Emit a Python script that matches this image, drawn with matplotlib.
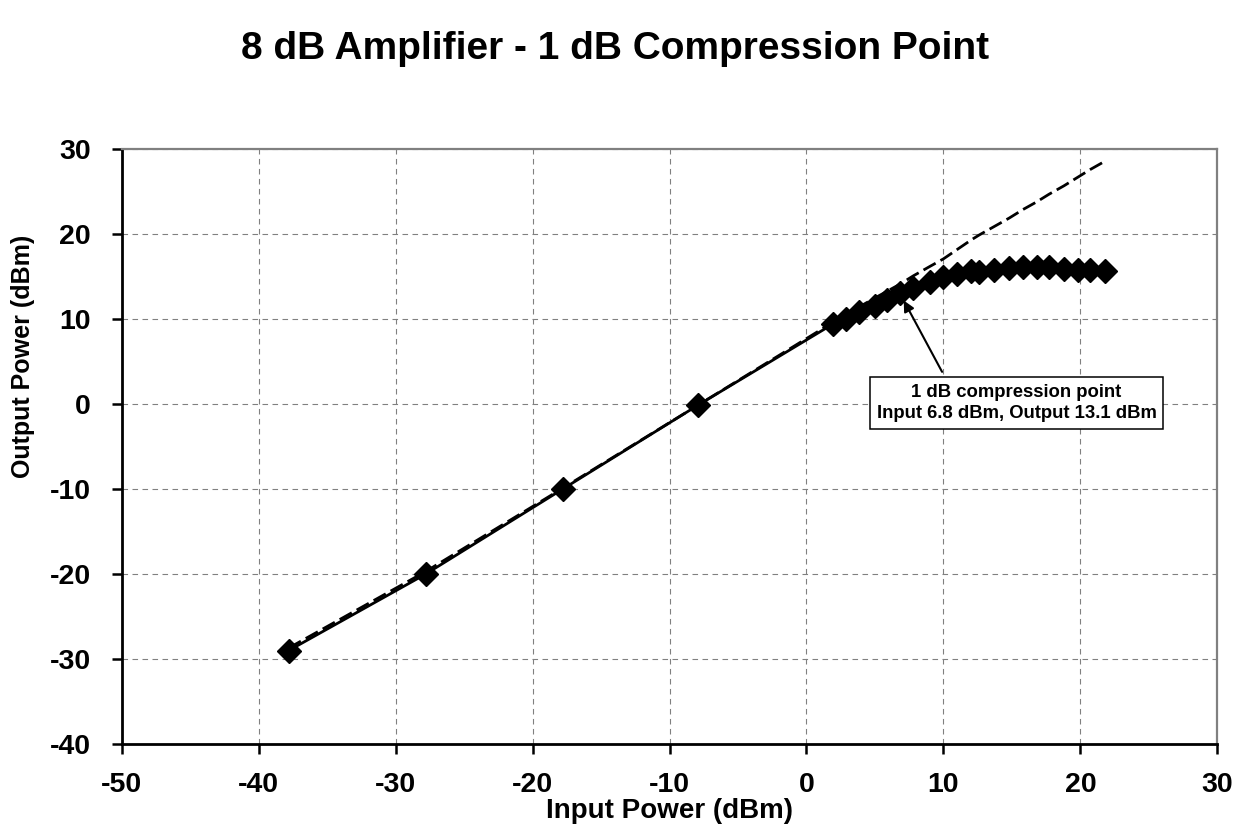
import matplotlib.pyplot as plt

plt.rcParams['font.family'] = ['Liberation Sans', 'DejaVu Sans']
plt.rcParams['font.weight'] = 'bold'
plt.rcParams['axes.unicode_minus'] = False

# Measured amplifier data (input vs output, dBm)
input_dbm = [-37.8, -27.8, -17.8, -7.9, 1.9, 2.9, 3.8, 5.0, 5.9, 6.8, 7.8, 9.0, 10.0,
             11.0, 12.0, 12.6, 13.7, 14.8, 15.8, 16.8, 17.7, 18.8, 19.8, 20.7, 21.8]
output_dbm = [-29.0, -20.0, -10.0, -0.1, 9.4, 10.0, 10.8, 11.6, 12.3, 13.1, 13.7, 14.4, 15.0,
              15.3, 15.7, 15.6, 15.8, 16.0, 16.2, 16.2, 16.1, 15.9, 15.8, 15.8, 15.7]
# Ideal linear response (dashed)
linear_dbm = [-28.7, -19.7, -9.9, -0.1, 9.6, 10.5, 11.4, 12.5, 13.3, 14.1, 15.1, 16.2, 17.1,
              18.2, 19.3, 19.9, 20.9, 21.9, 22.9, 23.8, 24.7, 25.7, 26.7, 27.6, 28.6]

p1db_in = 6.8
p1db_out = 13.1
x_ticks = [-50, -40, -30, -20, -10, 0, 10, 20, 30]
y_ticks = [-40, -30, -20, -10, 0, 10, 20, 30]

fig = plt.figure(figsize=(12.54, 8.32), dpi=100)
ax = fig.add_axes([0.0970, 0.1058, 0.8738, 0.7148])

ax.plot(input_dbm, linear_dbm, color='black', lw=2, ls=(0, (5, 2)), zorder=3)
ax.plot(input_dbm, output_dbm, color='black', lw=2, marker='D', markersize=12, zorder=4)

ax.set_xlim(-50, 30)
ax.set_ylim(-40, 30)
ax.set_xticks(x_ticks)
ax.set_yticks(y_ticks)
ax.grid(True, color='#808080', lw=0.8, ls=(0, (5, 4)))
ax.set_axisbelow(True)

for s in ['left', 'bottom']:
    ax.spines[s].set_linewidth(2)
    ax.spines[s].set_color('black')
for s in ['top', 'right']:
    ax.spines[s].set_linewidth(1.6)
    ax.spines[s].set_color('#808080')
ax.tick_params(direction='out', length=7, width=1.8, pad=15, labelsize=20.5)
ax.tick_params(axis='x', pad=13)
ax.tick_params(top=False, right=False)

ax.set_xlabel('Input Power (dBm)', fontsize=20, fontweight='bold', va='center', ha='center')
ax.xaxis.set_label_coords(0.5, -0.112)
ax.set_ylabel('Output Power (dBm)', fontsize=18, fontweight='bold', va='center', ha='center')
ax.yaxis.set_label_coords(-0.090, 0.652)

fig.text(0.4904, 0.941, '8 dB Amplifier - 1 dB Compression Point', fontsize=28,
         fontweight='bold', ha='center', va='center')

ax.annotate('', xy=(7.1, 12.2), xytext=(9.9, 3.8),
            arrowprops=dict(arrowstyle='-|>', color='black', lw=1.5, mutation_scale=16,
                            shrinkA=0, shrinkB=0), zorder=5)
ax.text(15.33, 0.14, '1 dB compression point\nInput %.1f dBm, Output %.1f dBm' % (p1db_in, p1db_out),
        fontsize=13.3, fontweight='bold', ha='center', va='center', linespacing=1.35,
        bbox=dict(boxstyle='square,pad=0.35', fc='white', ec='black', lw=1.1), zorder=6)

fig.savefig('out.png', dpi=100)
